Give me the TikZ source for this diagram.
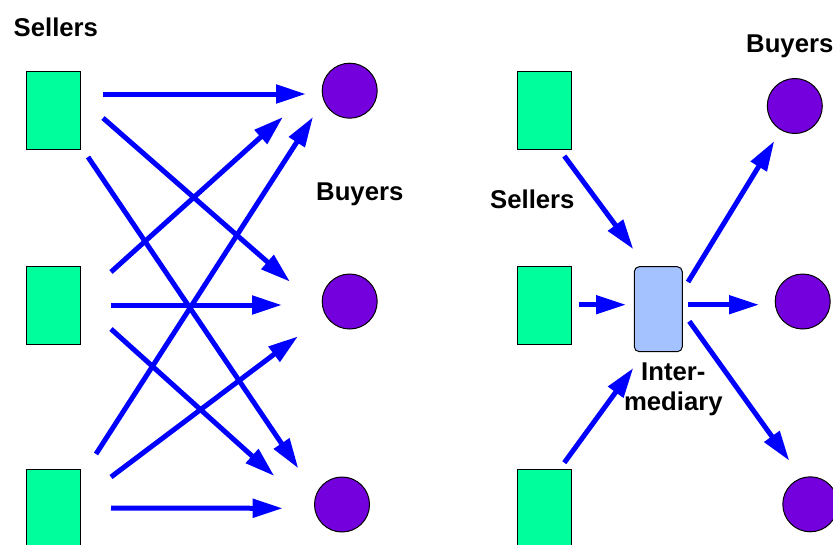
\documentclass[tikz,border=0pt]{standalone}
\usepackage{fontspec}
\setmainfont{Liberation Sans}
\usetikzlibrary{arrows.meta,calc}

\definecolor{sellergreen}{RGB}{0,255,156}
\definecolor{buyerpurple}{RGB}{116,0,221}
\definecolor{midblue}{RGB}{164,194,255}
\definecolor{flowblue}{RGB}{0,0,255}

\tikzset{
  seller/.style={draw=black, line width=1pt, fill=sellergreen,
    minimum width=54pt, minimum height=78pt, inner sep=0pt},
  buyer/.style={draw=black, line width=1pt, fill=buyerpurple, circle,
    minimum size=55pt, inner sep=0pt},
  middleman/.style={draw=black, line width=1pt, fill=midblue,
    rounded corners=5pt, minimum width=48pt, minimum height=85pt, inner sep=0pt},
  flow/.style={draw=flowblue, line width=5pt,
    -{Triangle[length=30pt,width=18pt]}},
  labelfont/.style={font=\fontsize{25.7}{30}\selectfont\bfseries, inner sep=0pt},
  caption/.style={labelfont, anchor=base west},
}

\begin{document}
\begin{tikzpicture}[x=1pt,y=-1pt]
  \clip (0,0) rectangle (833,544);
  \fill[white] (0,0) rectangle (833,544);

  % ---- direct market: every seller to every buyer ----
  \node[seller] (s1) at (53,110)   {};
  \node[seller] (s2) at (53,305.5) {};
  \node[seller] (s3) at (53,508)   {};
  \node[buyer]  (b1) at (349.7,90.7)  {};
  \node[buyer]  (b2) at (349.7,301.5) {};
  \node[buyer]  (b3) at (342,504.5)   {};

  \node[caption] (selL) at (13.5,36)  {Sellers};
  \node[caption] (buyL) at (316,200)  {Buyers};

  \draw[flow] ($(s1)+(50,-16)$)  -- ($(b1)+(-43.7,3.3)$);
  \draw[flow] ($(s1)+(50,8)$)    -- ($(b2)+(-59.7,-19.8)$);
  \draw[flow] ($(s1)+(35,47)$)   -- ($(b3)+(-43.7,-36.2)$);
  \draw[flow] ($(s2)+(58,-33.5)$) -- ($(b1)+(-66.7,26.3)$);
  \draw[flow] ($(s2)+(58,-0.5)$) -- ($(b2)+(-67.7,3.5)$);
  \draw[flow] ($(s2)+(58,23.5)$) -- ($(b3)+(-67.7,-28.5)$);
  \draw[flow] ($(s3)+(43,-54)$)  -- ($(b1)+(-36.7,26.3)$);
  \draw[flow] ($(s3)+(58,-31)$)  -- ($(b2)+(-51.7,34.8)$);
  \draw[flow] ($(s3)+(58,0)$)    -- ($(b3)+(-59.3,3.8)$);

  % ---- market with an intermediary ----
  \node[seller]    (r1) at (544.8,110)   {};
  \node[seller]    (r2) at (544.8,305.5) {};
  \node[seller]    (r3) at (544.8,508)   {};
  \node[middleman] (im) at (658.3,309.2) {};
  \node[buyer]     (q1) at (794.8,106)   {};
  \node[buyer]     (q2) at (802.7,301.5) {};
  \node[buyer]     (q3) at (810.3,504.3) {};

  \node[caption] (selR) at (490,208.3) {Sellers};
  \node[caption] (buyR) at (746,52.3)  {Buyers};
  % the base anchor of a two-line node sits on its last line
  \node[labelfont, align=center, anchor=base] (imL) at (673.3,410.3)
    {Inter-\\mediary};

  \draw[flow] ($(r1)+(19.5,46)$)    -- ($(im)+(-25,-60)$);
  \draw[flow] ($(r2)+(34.5,-0.8)$)  -- ($(im)+(-32.3,-4.5)$);
  \draw[flow] ($(r3)+(19.5,-45.3)$) -- ($(im)+(-25,58.8)$);
  \draw[flow] ($(im)+(29.7,-27.2)$) -- ($(q1)+(-20.5,35)$);
  \draw[flow] ($(im)+(30,-4.5)$)    -- ($(q2)+(-43.7,3.2)$);
  \draw[flow] ($(im)+(31,12.1)$)    -- ($(q3)+(-21,-43.6)$);
\end{tikzpicture}
\end{document}
